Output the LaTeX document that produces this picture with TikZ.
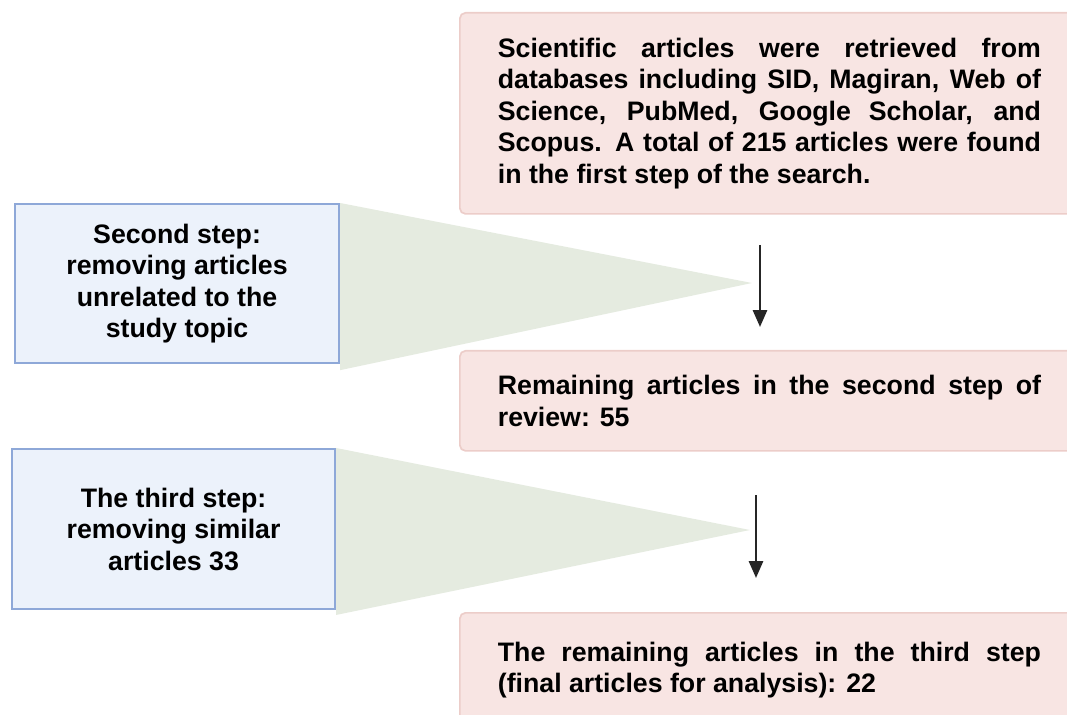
\documentclass[tikz,border=0pt]{standalone}
\usepackage{fontspec}
\setmainfont{Liberation Sans}
\usetikzlibrary{arrows.meta,backgrounds}

\definecolor{light-pink}{RGB}{248, 229, 227}
\definecolor{pink-border}{RGB}{236, 205, 201}
\definecolor{light-blue}{RGB}{236, 242, 251}
\definecolor{blue-border}{RGB}{142, 168, 216}
\definecolor{light-green}{RGB}{229, 235, 224}

\begin{document}
\begin{tikzpicture}[
        x=0.025cm, y=-0.025cm,
        every node/.style={font=\fontsize{19}{22.4}\selectfont\bfseries, anchor=north west, inner sep=0pt},
        result/.style={fill=light-pink, draw=pink-border, line width=1.2pt, rounded corners=4pt, text width=13.575cm, inner xsep=0.95cm, align=justify},
        removal/.style={fill=light-blue, draw=blue-border, line width=1.5pt, align=center},
        funnel/.style={fill=light-green},
        flow/.style={-{Triangle[width=10pt,length=12pt]}, line width=1.8pt, black!85},
    ]
    \useasboundingbox (0,0) rectangle (1067,715);

    \node[result, minimum height=5.025cm] (retrieved) at (459,12)
        {Scientific articles were retrieved from\linebreak databases including SID, Magiran, Web of\linebreak Science, PubMed, Google Scholar, and\linebreak Scopus. A total of 215 articles were found\linebreak in the first step of the search.};
    \node[result, minimum height=2.5cm] (remaining) at (459,350)
        {Remaining articles in the second step of\linebreak review: 55};
    \node[result, minimum height=2.85cm] (final) at (459,612)
        {The remaining articles in the third step\linebreak (final articles for analysis): 22};

    \node[removal, minimum width=8.1cm, minimum height=3.975cm] (unrelated) at (14,203)
        {Second step:\\ removing articles\\ unrelated to the\\ study topic};
    \node[removal, minimum width=8.075cm, minimum height=4cm] (similar) at (11,448)
        {The third step:\\ removing similar\\ articles 33};

    \coordinate (unrelated-tip) at (752,283);
    \coordinate (similar-tip) at (750,530);
    \begin{scope}[on background layer]
        \fill[funnel] (unrelated.north east) -- (unrelated-tip) -- ([yshift=-0.15cm]unrelated.south east) -- cycle;
        \fill[funnel] (similar.north east) -- (similar-tip) -- ([yshift=-0.12cm]similar.south east) -- cycle;
    \end{scope}

    \coordinate (flow1-start) at (760,245);
    \coordinate (flow1-end) at (760,327);
    \coordinate (flow2-start) at (756,495);
    \coordinate (flow2-end) at (756,578);
    \draw[flow] (flow1-start) -- (flow1-end);
    \draw[flow] (flow2-start) -- (flow2-end);
\end{tikzpicture}
\end{document}
